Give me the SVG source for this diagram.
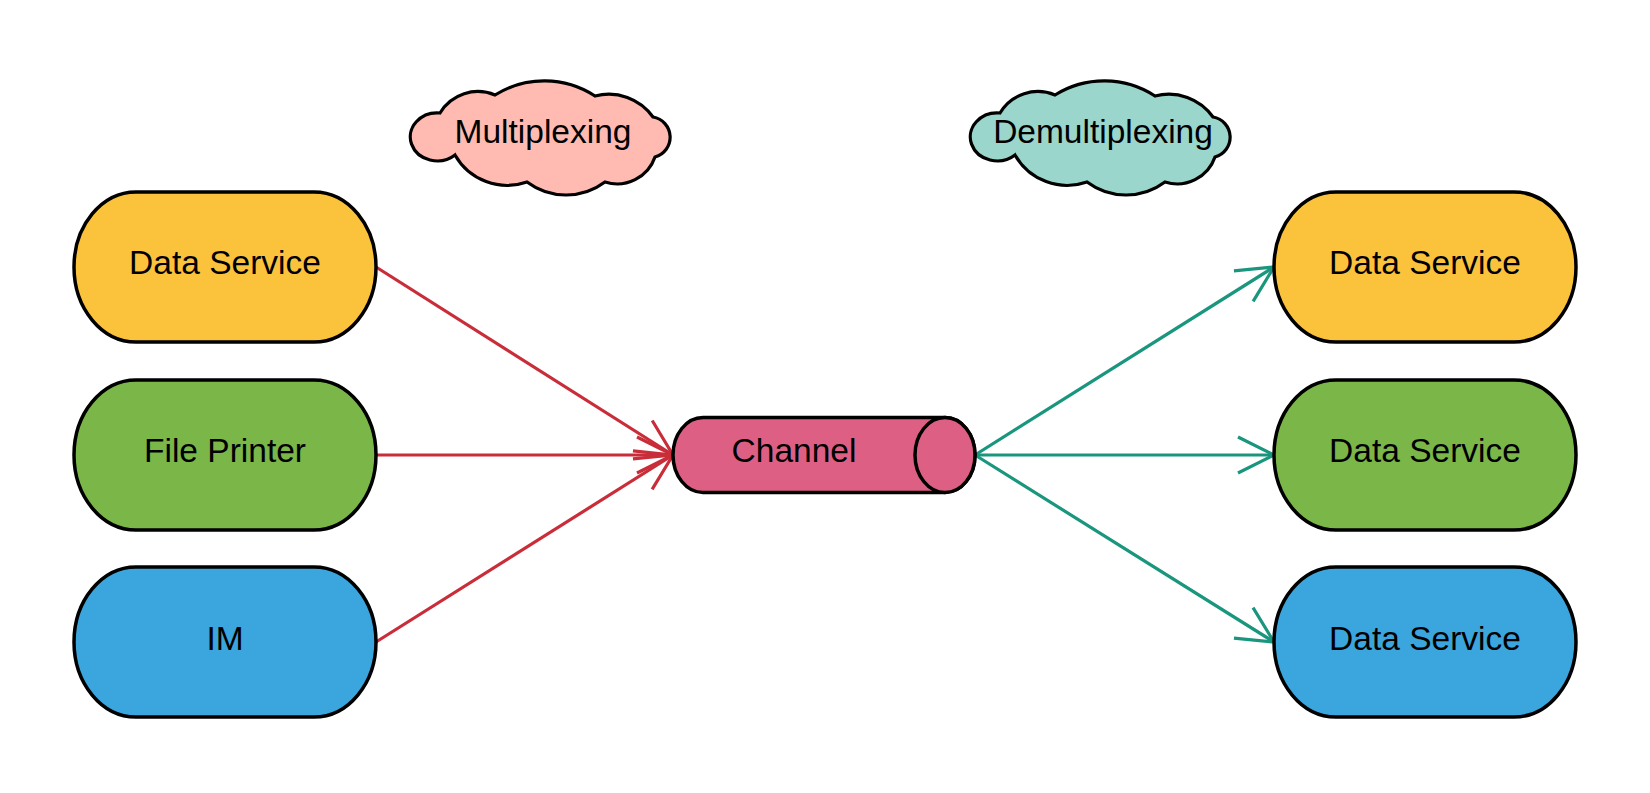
<svg xmlns="http://www.w3.org/2000/svg" width="1650" height="793" viewBox="0 0 1650 793">
  <style>
    .node { stroke: #000; stroke-width: 3.5; }
    .lbl { font-family: "Liberation Sans", Arial, sans-serif; font-size: 33.5px; fill: #000; text-anchor: middle; }
    .red { stroke: #c92d39; stroke-width: 3.2; fill: none; }
    .grn { stroke: #19967d; stroke-width: 3.2; fill: none; }
  </style>
  <defs>
    <marker id="arR" markerUnits="userSpaceOnUse" orient="auto" overflow="visible" refX="0" refY="0" markerWidth="40" markerHeight="40">
      <path d="M -36 -18 L 0 0 L -36 18" fill="none" stroke="#c92d39" stroke-width="3.2"/>
    </marker>
    <marker id="arG" markerUnits="userSpaceOnUse" orient="auto" overflow="visible" refX="0" refY="0" markerWidth="40" markerHeight="40">
      <path d="M -36 -18 L 0 0 L -36 18" fill="none" stroke="#19967d" stroke-width="3.2"/>
    </marker>
    <path id="cloud" d="M 25 31 A 44 44 0 0 1 80 13 A 93 93 0 0 1 180 14 A 54 54 0 0 1 238 35 A 20.5 20.5 0 0 1 240 75 A 40 40 0 0 1 190 100 A 65 65 0 0 1 112 100 A 60 60 0 0 1 40 73 A 27 24 0 1 1 25 31 Z"/>
  </defs>

  <g id="cloud-multiplexing">
    <use href="#cloud" transform="translate(415,82)" fill="#ffbbb1" stroke="#000" stroke-width="3.2"/>
    <text class="lbl" x="543" y="143">Multiplexing</text>
  </g>
  <g id="cloud-demultiplexing">
    <use href="#cloud" transform="translate(975,82)" fill="#9ad6cb" stroke="#000" stroke-width="3.2"/>
    <text class="lbl" x="1103" y="143">Demultiplexing</text>
  </g>

  <g id="connectors">
    <line class="red" x1="376" y1="267" x2="673" y2="455" marker-end="url(#arR)"/>
    <line class="red" x1="376" y1="455" x2="673" y2="455" marker-end="url(#arR)"/>
    <line class="red" x1="376" y1="642" x2="673" y2="455" marker-end="url(#arR)"/>
    <line class="grn" x1="975" y1="455" x2="1274" y2="267" marker-end="url(#arG)"/>
    <line class="grn" x1="975" y1="455" x2="1274" y2="455" marker-end="url(#arG)"/>
    <line class="grn" x1="975" y1="455" x2="1274" y2="642" marker-end="url(#arG)"/>
  </g>

  <g id="src-data-service">
    <rect class="node" x="74" y="192" width="302" height="150" rx="62" ry="75" fill="#fbc33c"/>
    <text class="lbl" x="225" y="274">Data Service</text>
  </g>
  <g id="src-file-printer">
    <rect class="node" x="74" y="380" width="302" height="150" rx="62" ry="75" fill="#7ab648"/>
    <text class="lbl" x="225" y="462">File Printer</text>
  </g>
  <g id="src-im">
    <rect class="node" x="74" y="567" width="302" height="150" rx="62" ry="75" fill="#3aa6dd"/>
    <text class="lbl" x="225" y="650">IM</text>
  </g>

  <g id="channel">
    <path class="node" d="M 703 417.5 H 945 A 30 37.5 0 0 1 945 492.5 H 703 A 30 37.5 0 0 1 703 417.5 Z" fill="#de5f84"/>
    <ellipse class="node" cx="945" cy="455" rx="30" ry="37.5" fill="#de5f84"/>
    <text class="lbl" x="794" y="462">Channel</text>
  </g>

  <g id="dst-data-service-1">
    <rect class="node" x="1274" y="192" width="302" height="150" rx="62" ry="75" fill="#fbc33c"/>
    <text class="lbl" x="1425" y="274">Data Service</text>
  </g>
  <g id="dst-data-service-2">
    <rect class="node" x="1274" y="380" width="302" height="150" rx="62" ry="75" fill="#7ab648"/>
    <text class="lbl" x="1425" y="462">Data Service</text>
  </g>
  <g id="dst-data-service-3">
    <rect class="node" x="1274" y="567" width="302" height="150" rx="62" ry="75" fill="#3aa6dd"/>
    <text class="lbl" x="1425" y="650">Data Service</text>
  </g>
</svg>
